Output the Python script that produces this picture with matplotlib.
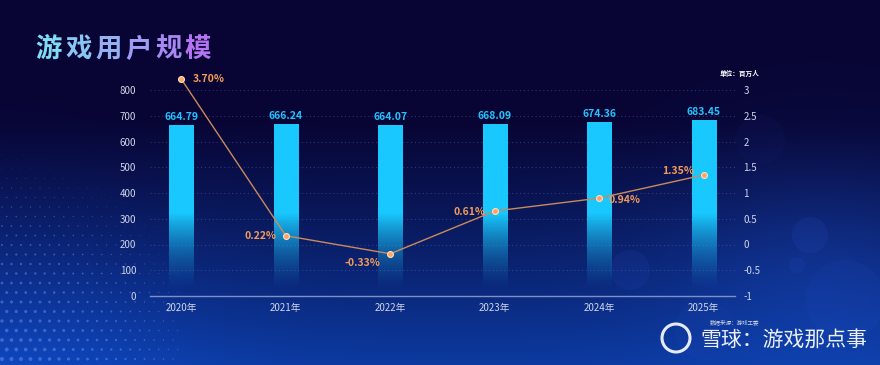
import numpy as np
import matplotlib
matplotlib.use("Agg")
import matplotlib.pyplot as plt
from matplotlib.patches import Circle

plt.rcParams['font.family'] = ['Noto Sans CJK SC', 'DejaVu Sans']

# ---------------- data ----------------
years = ['2020年', '2021年', '2022年', '2023年', '2024年', '2025年']
users = [664.79, 666.24, 664.07, 668.09, 674.36, 683.45]          # 百万人
growth_labels = ['3.70%', '0.22%', '-0.33%', '0.61%', '0.94%', '1.35%']
growth_pos = [3.21, 0.17, -0.18, 0.65, 0.90, 1.35]                # position read on right axis
left_ticks = [0, 100, 200, 300, 400, 500, 600, 700, 800]
right_ticks = [-1, -0.5, 0, 0.5, 1, 1.5, 2, 2.5, 3]
right_tick_labels = ['-1', '-0.5', '0', '0.5', '1', '1.5', '2', '2.5', '3']

W, H = 880, 365
fig = plt.figure(figsize=(W / 100, H / 100), dpi=100)

# ---------------- background ----------------
bg = fig.add_axes([0, 0, 1, 1], zorder=-10)
bg.set_xlim(0, W)
bg.set_ylim(H, 0)
bg.axis('off')
yy, xx = np.mgrid[0:H, 0:W]
t = np.clip((yy - 120) / (H - 120), 0, 1) ** 1.1
top = np.array([8, 5, 52]) / 255
bot = np.array([12, 58, 160]) / 255
img = top[None, None, :] * (1 - t[..., None]) + bot[None, None, :] * t[..., None]
glow = np.exp(-(((xx - 820) / 160) ** 2 + ((yy - 260) / 120) ** 2))
img = img + glow[..., None] * np.array([0.02, 0.06, 0.12])
glow2 = np.exp(-(((xx - 0) / 200) ** 2 + ((yy - 365) / 160) ** 2))
img = img + glow2[..., None] * np.array([0.01, 0.05, 0.12])
img = np.clip(img, 0, 1)
bg.imshow(img, extent=[0, W, H, 0], aspect='auto', interpolation='bilinear')

# halftone dots bottom-left (decoration)
gx, gy = np.meshgrid(np.arange(2, 175, 9.5), np.arange(150, 370, 9.5))
gx = gx + (np.arange(gx.shape[0])[:, None] % 2) * 4.75
d = np.hypot(gx + 20, gy - 400)
s = np.clip((270 - d) / 270, 0, 1)
mask = s > 0.03
bg.scatter(gx[mask], gy[mask], s=(s[mask] * 3.6) ** 2, color=(0.6, 0.7, 1.0),
           alpha=0.35, lw=0)
# bokeh circles (decoration)
for (cx, cy, r, a) in [(630, 270, 20, 0.10), (810, 235, 18, 0.12), (797, 265, 8, 0.10),
                       (845, 300, 40, 0.08), (705, 330, 30, 0.06), (760, 140, 25, 0.04)]:
    bg.add_patch(Circle((cx, cy), r, color=(0.2, 0.35, 0.85), alpha=a, lw=0))

# ---------------- main axes ----------------
ax = fig.add_axes([150 / W, 1 - 296 / H, (735 - 150) / W, (296 - 90) / H])
ax.set_facecolor('none')
x = np.arange(len(years))
ax.set_xlim(-0.3, len(years) - 1 + 0.3)
ax.set_ylim(0, 800)

bars = ax.bar(x, users, width=0.23, color='#19c8ff', zorder=3, lw=0)
grad = np.zeros((200, 1, 4))
gv = np.linspace(0, 800, 200)
col = np.array([25, 200, 255]) / 255
grad[..., :3] = col
alpha = np.clip((gv - 20) / 300, 0, 1) ** 1.4
grad[:, 0, 3] = alpha
for b in bars:
    b.set_alpha(0)
    x0 = b.get_x()
    im = ax.imshow(grad, extent=[x0, x0 + b.get_width(), 0, 800], origin='lower',
                   aspect='auto', zorder=3, interpolation='bilinear')
    clip = plt.Rectangle((x0, 0), b.get_width(), b.get_height(), transform=ax.transData)
    im.set_clip_path(clip)

for xi, v in zip(x, users):
    ax.text(xi, v + 12, f'{v:.2f}', ha='center', va='bottom', color='#22c4ff',
            fontsize=7.5, fontweight='bold', zorder=5)

ax.set_yticks(left_ticks)
ax.set_yticklabels([str(v) for v in left_ticks])
ax.set_xticks(x)
ax.set_xticklabels(years)
ax.tick_params(axis='both', length=0, colors='#d0d6ea', labelsize=7)
ax.tick_params(axis='y', pad=10)
ax.tick_params(axis='x', pad=5)
for sp in ['top', 'right', 'left']:
    ax.spines[sp].set_visible(False)
ax.spines['bottom'].set_color('#7f8fc8')
ax.spines['bottom'].set_linewidth(1)
ax.grid(axis='y', color=(0.45, 0.5, 0.8), alpha=0.35, ls=(0, (1, 2.5)), lw=0.8, zorder=0)
ax.set_axisbelow(True)

# ---------------- right axis / line ----------------
ax2 = ax.twinx()
ax2.set_ylim(-1, 3)
ax2.set_yticks(right_ticks)
ax2.set_yticklabels(right_tick_labels)
ax2.tick_params(axis='y', length=0, colors='#d0d6ea', labelsize=7, pad=6)
for sp in ax2.spines.values():
    sp.set_visible(False)
ax2.plot(x, growth_pos, color='#c98a5c', lw=1, zorder=6, clip_on=False)
ax2.scatter(x, growth_pos, s=18, color='#ffa466', edgecolor='#ffe0c0', lw=0.8, zorder=7,
            clip_on=False)

offsets = [(8, 0, 'left', 'center'), (-7, 0, 'right', 'center'), (-7, -7, 'right', 'center'),
           (-7, -1, 'right', 'center'), (7, -1, 'left', 'center'), (-7, 3, 'right', 'center')]
for xi, yv, lab, (dx, dy, ha, va) in zip(x, growth_pos, growth_labels, offsets):
    ax2.annotate(lab, (xi, yv), xytext=(dx, dy), textcoords='offset points', ha=ha, va=va,
                 color='#f29a5a', fontsize=7.5, fontweight='bold', zorder=8,
                 annotation_clip=False)

# ---------------- texts ----------------
title = '游戏用户规模'
c0 = np.array([0.50, 0.86, 0.96])
c1 = np.array([0.70, 0.45, 0.95])
for i, ch in enumerate(title):
    c = c0 + (c1 - c0) * (i / (len(title) - 1))
    fig.text((35 + 30 * i) / W, 1 - 49 / H, ch, color=c, fontsize=19, fontweight='bold',
             ha='left', va='center')

fig.text(740 / W, 1 - 73 / H, '单位：百万人', color='white', fontsize=4.8, fontweight='bold',
         ha='center', va='center')
fig.text(735 / W, 1 - 322 / H, '数据来源：游戏工委', color='white', fontsize=4, alpha=0.8,
         ha='center', va='center')
fig.text(700 / W, 1 - 340 / H, '雪球：游戏那点事', color='white', fontsize=15, alpha=0.92,
         ha='left', va='center')
bg.add_patch(Circle((676, 338), 14, fill=False, ec='white', lw=2.2, alpha=0.9))

fig.savefig('out.png', dpi=100)
